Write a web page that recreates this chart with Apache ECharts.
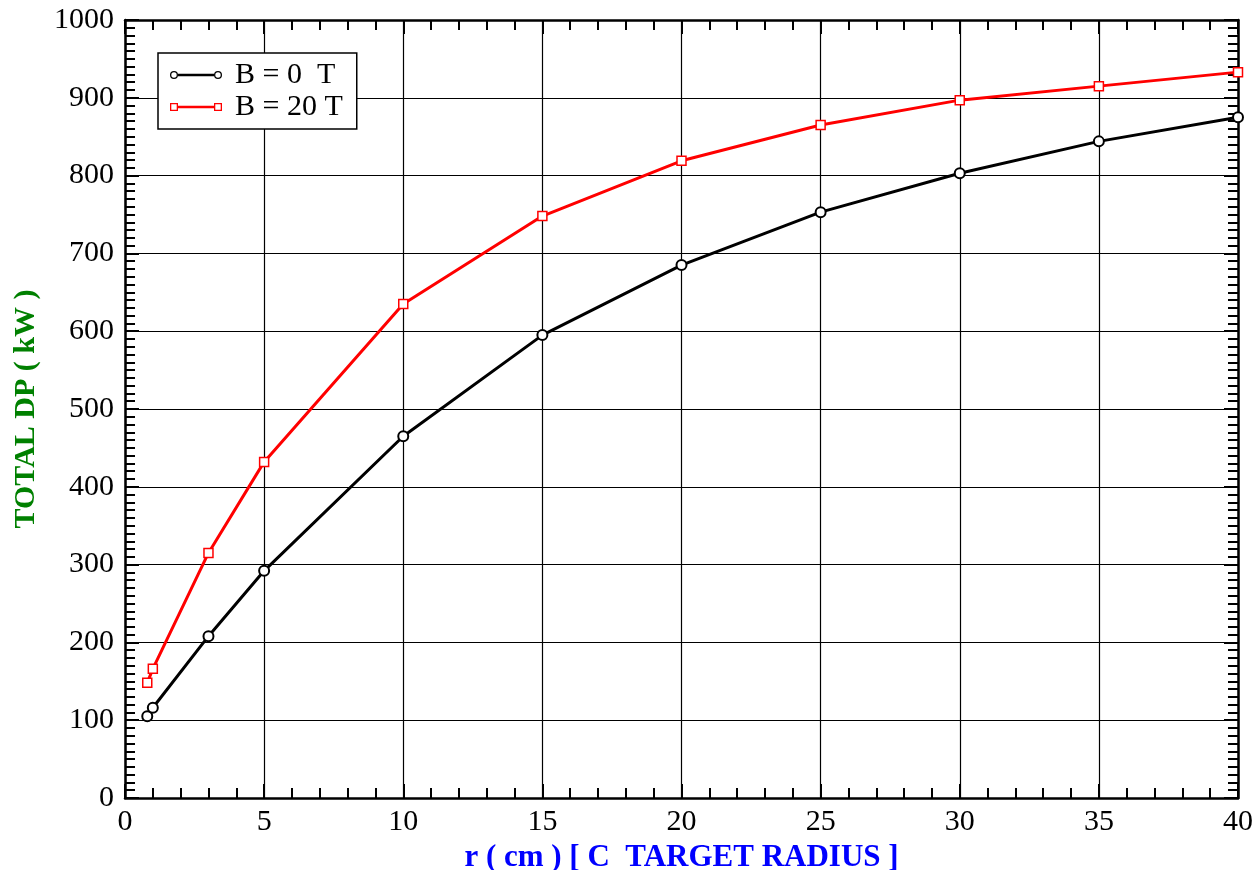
<!DOCTYPE html>
<html><head><meta charset="utf-8">
<script src="https://cdn.jsdelivr.net/npm/echarts@6/dist/echarts.min.js"></script>
<style>html,body{margin:0;padding:0;background:#fff;overflow:hidden}#c{width:1254px;height:870px}</style>
</head><body><div id="c"></div>
<script>
const radiusCm = [0.8, 1, 3, 5, 10, 15, 20, 25, 30, 35, 40];
const dpB0 = [105, 116, 208, 292, 465, 595, 685, 753, 803, 844, 875];
const dpB20 = [148, 166, 315, 432, 635, 748, 819, 865, 897, 915, 933];
const seriesNames = ['B = 0  T', 'B = 20 T'];

const FONT = 'Liberation Serif';
const circleIcon = 'path://M0,5A4,4 0 1,0 8,5A4,4 0 1,0 0,5Z M1.3,5A2.7,2.7 0 1,1 6.7,5A2.7,2.7 0 1,1 1.3,5Z M8,3.7L44,3.7L44,6.3L8,6.3Z M44,5A4,4 0 1,0 52,5A4,4 0 1,0 44,5Z M45.3,5A2.7,2.7 0 1,1 50.7,5A2.7,2.7 0 1,1 45.3,5Z';
const squareIcon = 'path://M0,1L8,1L8,9L0,9Z M1.3,7.7L6.7,7.7L6.7,2.3L1.3,2.3Z M8,3.7L44,3.7L44,6.3L8,6.3Z M44,1L52,1L52,9L44,9Z M45.3,7.7L50.7,7.7L50.7,2.3L45.3,2.3Z';

const el = document.getElementById('c');
const chart = echarts.init(el, null, {renderer: 'canvas'});
const pairs = a => radiusCm.map((x, i) => [x, a[i]]);
const axisCommon = {
  axisLine: {show: true, onZero: false, lineStyle: {color: '#000', width: 2.5}},
  axisTick: {show: true, inside: true, length: 14, lineStyle: {color: '#000', width: 2}},
  minorTick: {show: true, splitNumber: 5, length: 10, lineStyle: {color: '#000', width: 2}}
};
const plain = v => String(v);
chart.setOption({
  animation: false,
  grid: {left: 125, right: 16, top: 20, bottom: 72, containLabel: false, outerBoundsMode: 'none'},
  legend: {
    left: 158, top: 53, orient: 'vertical',
    backgroundColor: '#fff', borderColor: '#000', borderWidth: 1.5, borderRadius: 0,
    padding: [7, 14, 7, 12], itemGap: 2, itemWidth: 52, itemHeight: 10,
    textStyle: {fontFamily: FONT, fontSize: 30, color: '#000', padding: [0, 0, 0, 8]},
    data: [
      {name: seriesNames[0], icon: circleIcon, itemStyle: {color: '#000', borderWidth: 0}},
      {name: seriesNames[1], icon: squareIcon, itemStyle: {color: '#ff0000', borderWidth: 0}}
    ]
  },
  xAxis: [
    Object.assign({}, axisCommon, {
      type: 'value', min: 0, max: 40, interval: 5,
      minorTick: Object.assign({}, axisCommon.minorTick, {splitNumber: 5}),
      axisLabel: {fontFamily: FONT, fontSize: 30, color: '#000', margin: 9, formatter: plain},
      splitLine: {show: true, lineStyle: {color: '#000', width: 1.2}},
      name: 'r ( cm ) [ C  TARGET RADIUS ]', nameLocation: 'middle', nameGap: 44,
      nameTextStyle: {fontFamily: FONT, fontSize: 31, fontWeight: 'bold', color: '#0000ff'}
    }),
    Object.assign({}, axisCommon, {
      type: 'value', min: 0, max: 40, interval: 5, position: 'top',
      minorTick: Object.assign({}, axisCommon.minorTick, {splitNumber: 5}),
      axisLabel: {show: false}, splitLine: {show: false}
    })
  ],
  yAxis: [
    Object.assign({}, axisCommon, {
      type: 'value', min: 0, max: 1000, interval: 100,
      minorTick: Object.assign({}, axisCommon.minorTick, {splitNumber: 10}),
      axisLabel: {fontFamily: FONT, fontSize: 30, color: '#000', margin: 11, formatter: plain},
      splitLine: {show: true, lineStyle: {color: '#000', width: 1.2}},
      name: 'TOTAL DP ( kW )', nameLocation: 'middle', nameGap: 84,
      nameTextStyle: {fontFamily: FONT, fontSize: 30, fontWeight: 'bold', color: '#008000'}
    }),
    Object.assign({}, axisCommon, {
      type: 'value', min: 0, max: 1000, interval: 100, position: 'right',
      minorTick: Object.assign({}, axisCommon.minorTick, {splitNumber: 10}),
      axisLabel: {show: false}, splitLine: {show: false}
    })
  ],
  series: [
    {
      name: seriesNames[0], type: 'line', data: pairs(dpB0),
      symbol: 'emptyCircle', symbolSize: 10, showAllSymbol: true,
      lineStyle: {color: '#000', width: 3},
      itemStyle: {color: '#000', borderColor: '#000', borderWidth: 1.5}
    },
    {
      name: seriesNames[1], type: 'line', data: pairs(dpB20),
      symbol: 'rect', symbolSize: 9, showAllSymbol: true,
      lineStyle: {color: '#ff0000', width: 3},
      itemStyle: {color: '#fff', borderColor: '#ff0000', borderWidth: 1.5}
    }
  ]
});
</script>
</body></html>
